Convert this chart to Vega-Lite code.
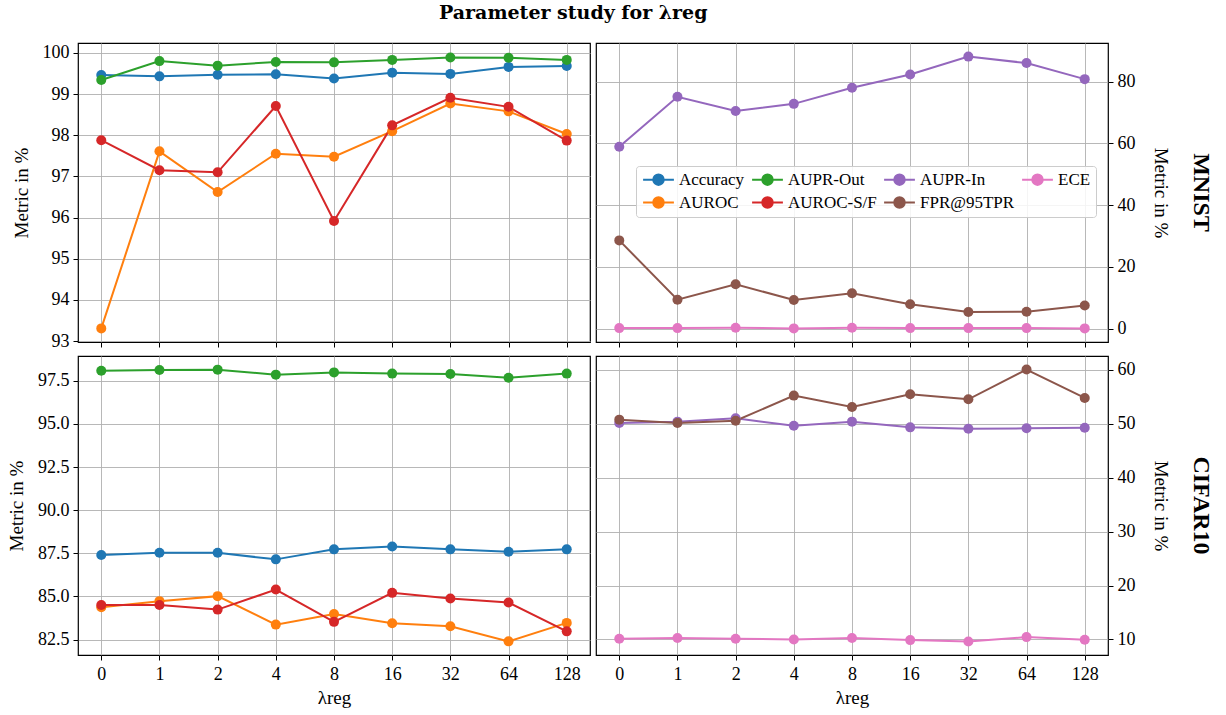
{
"$schema": "https://vega.github.io/schema/vega-lite/v6.json",
"title": {"text": "Parameter study for λreg", "font": "DejaVu Serif", "fontSize": 19, "fontWeight": "bold", "anchor": "middle", "offset": 19, "dx": -37, "color": "black"},
"padding": {"left": 6, "top": 4, "right": 4, "bottom": 2},
"columns": 2,
"spacing": {"row": 4, "column": 4},
"resolve": {"legend": {"color": "independent"}},
"datasets": {"d": [
{"ds":"MNIST","lam":0,"metric":"Accuracy","value":99.46},{"ds":"MNIST","lam":1,"metric":"Accuracy","value":99.43},{"ds":"MNIST","lam":2,"metric":"Accuracy","value":99.47},{"ds":"MNIST","lam":4,"metric":"Accuracy","value":99.48},{"ds":"MNIST","lam":8,"metric":"Accuracy","value":99.38},{"ds":"MNIST","lam":16,"metric":"Accuracy","value":99.52},{"ds":"MNIST","lam":32,"metric":"Accuracy","value":99.49},{"ds":"MNIST","lam":64,"metric":"Accuracy","value":99.66},{"ds":"MNIST","lam":128,"metric":"Accuracy","value":99.68},
{"ds":"MNIST","lam":0,"metric":"AUROC","value":93.31},{"ds":"MNIST","lam":1,"metric":"AUROC","value":97.61},{"ds":"MNIST","lam":2,"metric":"AUROC","value":96.62},{"ds":"MNIST","lam":4,"metric":"AUROC","value":97.55},{"ds":"MNIST","lam":8,"metric":"AUROC","value":97.48},{"ds":"MNIST","lam":16,"metric":"AUROC","value":98.10},{"ds":"MNIST","lam":32,"metric":"AUROC","value":98.77},{"ds":"MNIST","lam":64,"metric":"AUROC","value":98.58},{"ds":"MNIST","lam":128,"metric":"AUROC","value":98.03},
{"ds":"MNIST","lam":0,"metric":"AUPR-Out","value":99.34},{"ds":"MNIST","lam":1,"metric":"AUPR-Out","value":99.80},{"ds":"MNIST","lam":2,"metric":"AUPR-Out","value":99.69},{"ds":"MNIST","lam":4,"metric":"AUPR-Out","value":99.78},{"ds":"MNIST","lam":8,"metric":"AUPR-Out","value":99.77},{"ds":"MNIST","lam":16,"metric":"AUPR-Out","value":99.83},{"ds":"MNIST","lam":32,"metric":"AUPR-Out","value":99.89},{"ds":"MNIST","lam":64,"metric":"AUPR-Out","value":99.88},{"ds":"MNIST","lam":128,"metric":"AUPR-Out","value":99.83},
{"ds":"MNIST","lam":0,"metric":"AUROC-S/F","value":97.88},{"ds":"MNIST","lam":1,"metric":"AUROC-S/F","value":97.15},{"ds":"MNIST","lam":2,"metric":"AUROC-S/F","value":97.10},{"ds":"MNIST","lam":4,"metric":"AUROC-S/F","value":98.71},{"ds":"MNIST","lam":8,"metric":"AUROC-S/F","value":95.92},{"ds":"MNIST","lam":16,"metric":"AUROC-S/F","value":98.24},{"ds":"MNIST","lam":32,"metric":"AUROC-S/F","value":98.91},{"ds":"MNIST","lam":64,"metric":"AUROC-S/F","value":98.69},{"ds":"MNIST","lam":128,"metric":"AUROC-S/F","value":97.87},
{"ds":"MNIST","lam":0,"metric":"AUPR-In","value":58.9},{"ds":"MNIST","lam":1,"metric":"AUPR-In","value":75.1},{"ds":"MNIST","lam":2,"metric":"AUPR-In","value":70.5},{"ds":"MNIST","lam":4,"metric":"AUPR-In","value":72.8},{"ds":"MNIST","lam":8,"metric":"AUPR-In","value":78.0},{"ds":"MNIST","lam":16,"metric":"AUPR-In","value":82.3},{"ds":"MNIST","lam":32,"metric":"AUPR-In","value":88.1},{"ds":"MNIST","lam":64,"metric":"AUPR-In","value":86.0},{"ds":"MNIST","lam":128,"metric":"AUPR-In","value":80.8},
{"ds":"MNIST","lam":0,"metric":"FPR@95TPR","value":28.6},{"ds":"MNIST","lam":1,"metric":"FPR@95TPR","value":9.4},{"ds":"MNIST","lam":2,"metric":"FPR@95TPR","value":14.4},{"ds":"MNIST","lam":4,"metric":"FPR@95TPR","value":9.3},{"ds":"MNIST","lam":8,"metric":"FPR@95TPR","value":11.5},{"ds":"MNIST","lam":16,"metric":"FPR@95TPR","value":7.9},{"ds":"MNIST","lam":32,"metric":"FPR@95TPR","value":5.4},{"ds":"MNIST","lam":64,"metric":"FPR@95TPR","value":5.5},{"ds":"MNIST","lam":128,"metric":"FPR@95TPR","value":7.5},
{"ds":"MNIST","lam":0,"metric":"ECE","value":0.2},{"ds":"MNIST","lam":1,"metric":"ECE","value":0.2},{"ds":"MNIST","lam":2,"metric":"ECE","value":0.3},{"ds":"MNIST","lam":4,"metric":"ECE","value":0.1},{"ds":"MNIST","lam":8,"metric":"ECE","value":0.3},{"ds":"MNIST","lam":16,"metric":"ECE","value":0.2},{"ds":"MNIST","lam":32,"metric":"ECE","value":0.2},{"ds":"MNIST","lam":64,"metric":"ECE","value":0.2},{"ds":"MNIST","lam":128,"metric":"ECE","value":0.1},
{"ds":"CIFAR10","lam":0,"metric":"Accuracy","value":87.40},{"ds":"CIFAR10","lam":1,"metric":"Accuracy","value":87.53},{"ds":"CIFAR10","lam":2,"metric":"Accuracy","value":87.53},{"ds":"CIFAR10","lam":4,"metric":"Accuracy","value":87.15},{"ds":"CIFAR10","lam":8,"metric":"Accuracy","value":87.73},{"ds":"CIFAR10","lam":16,"metric":"Accuracy","value":87.90},{"ds":"CIFAR10","lam":32,"metric":"Accuracy","value":87.73},{"ds":"CIFAR10","lam":64,"metric":"Accuracy","value":87.59},{"ds":"CIFAR10","lam":128,"metric":"Accuracy","value":87.73},
{"ds":"CIFAR10","lam":0,"metric":"AUROC","value":84.38},{"ds":"CIFAR10","lam":1,"metric":"AUROC","value":84.73},{"ds":"CIFAR10","lam":2,"metric":"AUROC","value":85.02},{"ds":"CIFAR10","lam":4,"metric":"AUROC","value":83.37},{"ds":"CIFAR10","lam":8,"metric":"AUROC","value":83.99},{"ds":"CIFAR10","lam":16,"metric":"AUROC","value":83.45},{"ds":"CIFAR10","lam":32,"metric":"AUROC","value":83.28},{"ds":"CIFAR10","lam":64,"metric":"AUROC","value":82.40},{"ds":"CIFAR10","lam":128,"metric":"AUROC","value":83.47},
{"ds":"CIFAR10","lam":0,"metric":"AUPR-Out","value":98.08},{"ds":"CIFAR10","lam":1,"metric":"AUPR-Out","value":98.12},{"ds":"CIFAR10","lam":2,"metric":"AUPR-Out","value":98.14},{"ds":"CIFAR10","lam":4,"metric":"AUPR-Out","value":97.85},{"ds":"CIFAR10","lam":8,"metric":"AUPR-Out","value":97.98},{"ds":"CIFAR10","lam":16,"metric":"AUPR-Out","value":97.91},{"ds":"CIFAR10","lam":32,"metric":"AUPR-Out","value":97.89},{"ds":"CIFAR10","lam":64,"metric":"AUPR-Out","value":97.67},{"ds":"CIFAR10","lam":128,"metric":"AUPR-Out","value":97.91},
{"ds":"CIFAR10","lam":0,"metric":"AUROC-S/F","value":84.51},{"ds":"CIFAR10","lam":1,"metric":"AUROC-S/F","value":84.51},{"ds":"CIFAR10","lam":2,"metric":"AUROC-S/F","value":84.24},{"ds":"CIFAR10","lam":4,"metric":"AUROC-S/F","value":85.40},{"ds":"CIFAR10","lam":8,"metric":"AUROC-S/F","value":83.53},{"ds":"CIFAR10","lam":16,"metric":"AUROC-S/F","value":85.21},{"ds":"CIFAR10","lam":32,"metric":"AUROC-S/F","value":84.88},{"ds":"CIFAR10","lam":64,"metric":"AUROC-S/F","value":84.65},{"ds":"CIFAR10","lam":128,"metric":"AUROC-S/F","value":82.98},
{"ds":"CIFAR10","lam":0,"metric":"AUPR-In","value":50.15},{"ds":"CIFAR10","lam":1,"metric":"AUPR-In","value":50.40},{"ds":"CIFAR10","lam":2,"metric":"AUPR-In","value":51.02},{"ds":"CIFAR10","lam":4,"metric":"AUPR-In","value":49.65},{"ds":"CIFAR10","lam":8,"metric":"AUPR-In","value":50.40},{"ds":"CIFAR10","lam":16,"metric":"AUPR-In","value":49.34},{"ds":"CIFAR10","lam":32,"metric":"AUPR-In","value":49.10},{"ds":"CIFAR10","lam":64,"metric":"AUPR-In","value":49.16},{"ds":"CIFAR10","lam":128,"metric":"AUPR-In","value":49.28},
{"ds":"CIFAR10","lam":0,"metric":"FPR@95TPR","value":50.77},{"ds":"CIFAR10","lam":1,"metric":"FPR@95TPR","value":50.15},{"ds":"CIFAR10","lam":2,"metric":"FPR@95TPR","value":50.58},{"ds":"CIFAR10","lam":4,"metric":"FPR@95TPR","value":55.23},{"ds":"CIFAR10","lam":8,"metric":"FPR@95TPR","value":53.12},{"ds":"CIFAR10","lam":16,"metric":"FPR@95TPR","value":55.48},{"ds":"CIFAR10","lam":32,"metric":"FPR@95TPR","value":54.55},{"ds":"CIFAR10","lam":64,"metric":"FPR@95TPR","value":60.06},{"ds":"CIFAR10","lam":128,"metric":"FPR@95TPR","value":54.80},
{"ds":"CIFAR10","lam":0,"metric":"ECE","value":10.12},{"ds":"CIFAR10","lam":1,"metric":"ECE","value":10.25},{"ds":"CIFAR10","lam":2,"metric":"ECE","value":10.12},{"ds":"CIFAR10","lam":4,"metric":"ECE","value":10.0},{"ds":"CIFAR10","lam":8,"metric":"ECE","value":10.25},{"ds":"CIFAR10","lam":16,"metric":"ECE","value":9.87},{"ds":"CIFAR10","lam":32,"metric":"ECE","value":9.63},{"ds":"CIFAR10","lam":64,"metric":"ECE","value":10.43},{"ds":"CIFAR10","lam":128,"metric":"ECE","value":9.94}
]},
"config": {
  "font": "Liberation Serif",
  "view": {"stroke": "black", "strokeWidth": 1.2},
  "axis": {"domain": false, "grid": true, "gridColor": "#b0b0b0", "gridWidth": 0.9, "tickColor": "black", "tickSize": 5, "tickWidth": 1, "labelFont": "Liberation Serif", "labelFontSize": 18, "labelColor": "black", "titleFont": "Liberation Serif", "titleFontSize": 19, "titleFontWeight": "normal", "titleColor": "black", "labelPadding": 4},
  "axisX": {"labelAngle": 0, "labelPadding": 5, "titlePadding": 5},
  "axisLeft": {"titlePadding": 11},
  "axisRight": {"titlePadding": 15},
  "legend": {"labelFont": "Liberation Serif", "labelFontSize": 17, "labelColor": "black"}
},
"concat": [
{
  "width": 512, "height": 299,
  "data": {"name": "d"},
  "transform": [{"filter": {"field": "ds", "equal": "MNIST"}}, {"filter": {"field": "metric", "oneOf": ["Accuracy", "AUROC", "AUPR-Out", "AUROC-S/F"]}}],
  "encoding": {
    "x": {"field": "lam", "type": "ordinal", "scale": {"type": "point", "padding": 0.4}, "axis": {"labels": false, "title": null, "grid": true}},
    "y": {"field": "value", "type": "quantitative", "scale": {"domain": [92.98, 100.24], "nice": false, "zero": false}, "axis": {"values": [93, 94, 95, 96, 97, 98, 99, 100], "title": "Metric in %"}},
    "color": {"field": "metric", "type": "nominal", "scale": {"domain": ["Accuracy", "AUROC", "AUPR-Out", "AUROC-S/F", "AUPR-In", "FPR@95TPR", "ECE"], "range": ["#1f77b4", "#ff7f0e", "#2ca02c", "#d62728", "#9467bd", "#8c564b", "#e377c2"]}, "legend": null}
  },
  "layer": [{"mark": {"type": "line", "strokeWidth": 2}}, {"mark": {"type": "point", "filled": true, "size": 100, "opacity": 1}}]
},
{
  "width": 512, "height": 299,
  "data": {"name": "d"},
  "title": {"text": "MNIST", "orient": "right", "angle": 90, "fontSize": 24, "fontWeight": "bold", "font": "Liberation Serif", "offset": 20, "anchor": "middle", "color": "black"},
  "transform": [{"filter": {"field": "ds", "equal": "MNIST"}}, {"filter": {"field": "metric", "oneOf": ["AUPR-In", "FPR@95TPR", "ECE"]}}],
  "encoding": {
    "x": {"field": "lam", "type": "ordinal", "scale": {"type": "point", "padding": 0.4}, "axis": {"labels": false, "title": null, "grid": true}},
    "y": {"field": "value", "type": "quantitative", "scale": {"domain": [-4.3, 92.5], "nice": false, "zero": false}, "axis": {"orient": "right", "values": [0, 20, 40, 60, 80], "title": "Metric in %", "titleAngle": 90}},
    "color": {"field": "metric", "type": "nominal", "scale": {"domain": ["Accuracy", "AUROC", "AUPR-Out", "AUROC-S/F", "AUPR-In", "FPR@95TPR", "ECE"], "range": ["#1f77b4", "#ff7f0e", "#2ca02c", "#d62728", "#9467bd", "#8c564b", "#e377c2"]},
      "legend": {"orient": "none", "legendX": 40, "legendY": 123, "columns": 4, "title": null, "symbolType": "M-2.2,0H2.2M0.75,0A0.75,0.75 0 1,1 -0.75,0A0.75,0.75 0 1,1 0.75,0Z", "symbolSize": 196, "symbolStrokeWidth": 2, "symbolOffset": 9, "labelOffset": 12, "strokeColor": "#cccccc", "fillColor": "rgba(255,255,255,0.85)", "cornerRadius": 3, "padding": 5, "rowPadding": 4, "columnPadding": 3,
        "encode": {"symbols": {"update": {"stroke": {"scale": "color", "field": "value"}, "fill": {"scale": "color", "field": "value"}, "opacity": {"value": 1}}}}}}
  },
  "layer": [{"mark": {"type": "line", "strokeWidth": 2}}, {"mark": {"type": "point", "filled": true, "size": 100, "opacity": 1}}]
},
{
  "width": 512, "height": 299,
  "data": {"name": "d"},
  "transform": [{"filter": {"field": "ds", "equal": "CIFAR10"}}, {"filter": {"field": "metric", "oneOf": ["Accuracy", "AUROC", "AUPR-Out", "AUROC-S/F"]}}],
  "encoding": {
    "x": {"field": "lam", "type": "ordinal", "scale": {"type": "point", "padding": 0.4}, "axis": {"title": "λreg", "grid": true}},
    "y": {"field": "value", "type": "quantitative", "scale": {"domain": [81.61, 98.93], "nice": false, "zero": false}, "axis": {"values": [82.5, 85, 87.5, 90, 92.5, 95, 97.5], "format": ".1f", "title": "Metric in %"}},
    "color": {"field": "metric", "type": "nominal", "scale": {"domain": ["Accuracy", "AUROC", "AUPR-Out", "AUROC-S/F", "AUPR-In", "FPR@95TPR", "ECE"], "range": ["#1f77b4", "#ff7f0e", "#2ca02c", "#d62728", "#9467bd", "#8c564b", "#e377c2"]}, "legend": null}
  },
  "layer": [{"mark": {"type": "line", "strokeWidth": 2}}, {"mark": {"type": "point", "filled": true, "size": 100, "opacity": 1}}]
},
{
  "width": 512, "height": 299,
  "data": {"name": "d"},
  "title": {"text": "CIFAR10", "orient": "right", "angle": 90, "fontSize": 24, "fontWeight": "bold", "font": "Liberation Serif", "offset": 20, "anchor": "middle", "color": "black"},
  "transform": [{"filter": {"field": "ds", "equal": "CIFAR10"}}, {"filter": {"field": "metric", "oneOf": ["AUPR-In", "FPR@95TPR", "ECE"]}}],
  "encoding": {
    "x": {"field": "lam", "type": "ordinal", "scale": {"type": "point", "padding": 0.4}, "axis": {"title": "λreg", "grid": true}},
    "y": {"field": "value", "type": "quantitative", "scale": {"domain": [7.11, 62.58], "nice": false, "zero": false}, "axis": {"orient": "right", "values": [10, 20, 30, 40, 50, 60], "title": "Metric in %", "titleAngle": 90}},
    "color": {"field": "metric", "type": "nominal", "scale": {"domain": ["Accuracy", "AUROC", "AUPR-Out", "AUROC-S/F", "AUPR-In", "FPR@95TPR", "ECE"], "range": ["#1f77b4", "#ff7f0e", "#2ca02c", "#d62728", "#9467bd", "#8c564b", "#e377c2"]}, "legend": null}
  },
  "layer": [{"mark": {"type": "line", "strokeWidth": 2}}, {"mark": {"type": "point", "filled": true, "size": 100, "opacity": 1}}]
}
]
}
